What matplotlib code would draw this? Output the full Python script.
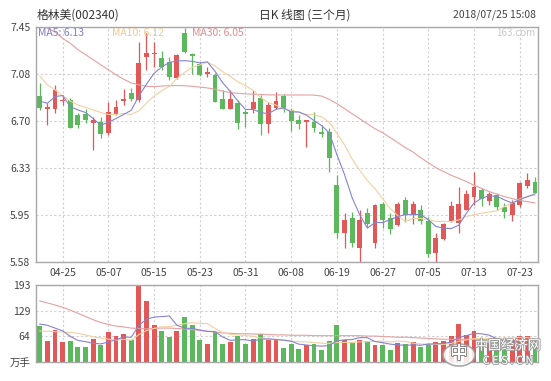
import matplotlib
matplotlib.use('Agg')
import matplotlib.pyplot as plt
import matplotlib.patheffects as pe
from matplotlib.patches import Circle

plt.rcParams['font.family'] = ['Noto Sans CJK SC', 'DejaVu Sans']

dates = ['04-20', '04-23', '04-24', '04-25', '04-26', '04-27', '05-02', '05-03', '05-04', '05-07',
         '05-08', '05-09', '05-10', '05-11', '05-14', '05-15', '05-16', '05-17', '05-18', '05-21',
         '05-22', '05-23', '05-24', '05-25', '05-28', '05-29', '05-30', '05-31', '06-01', '06-04',
         '06-05', '06-06', '06-07', '06-08', '06-11', '06-12', '06-13', '06-14', '06-15', '06-19',
         '06-20', '06-21', '06-22', '06-25', '06-26', '06-27', '06-28', '06-29', '07-02', '07-03',
         '07-04', '07-05', '07-06', '07-09', '07-10', '07-11', '07-12', '07-13', '07-16', '07-17',
         '07-18', '07-19', '07-20', '07-23', '07-24', '07-25']

opens = [6.901, 6.80, 6.795, 6.86, 6.869, 6.75, 6.755, 6.683, 6.697, 6.609,
         6.755, 6.861, 6.922, 6.869, 7.211, 7.235, 7.20, 7.174, 7.047, 7.40,
         7.23, 7.153, 7.073, 7.068, 6.88, 6.80, 6.843, 6.771, 6.798, 6.882,
         6.675, 6.803, 6.904, 6.79, 6.71, 6.695, 6.697, 6.612, 6.617, 6.193,
         5.808, 5.927, 5.689, 5.967, 5.729, 6.039, 5.933, 5.874, 6.073, 5.954,
         5.994, 5.909, 5.649, 5.761, 5.909, 5.888, 5.994, 6.10, 6.153, 6.068,
         6.113, 6.02, 5.954, 6.034, 6.185, 6.22]
highs = [7.007, 6.843, 6.989, 6.909, 6.882, 6.763, 6.795, 6.731, 6.731, 6.856,
         6.869, 6.957, 6.962, 7.333, 7.40, 7.333, 7.26, 7.214, 7.235, 7.44,
         7.24, 7.174, 7.134, 7.08, 6.949, 6.949, 6.869, 6.79, 6.949, 6.909,
         6.851, 6.935, 6.914, 6.803, 6.75, 6.71, 6.771, 6.67, 6.644, 6.272,
         5.97, 5.98, 5.994, 6.012, 6.045, 6.06, 5.967, 6.06, 6.10, 6.065,
         6.034, 5.941, 5.808, 5.888, 6.068, 6.174, 6.153, 6.299, 6.166, 6.14,
         6.127, 6.047, 6.074, 6.22, 6.286, 6.26]
lows = [6.79, 6.67, 6.768, 6.829, 6.644, 6.644, 6.683, 6.471, 6.564, 6.591,
        6.750, 6.829, 6.861, 6.851, 7.108, 7.13, 7.11, 7.028, 7.04, 7.24,
        7.073, 7.063, 7.055, 6.85, 6.798, 6.798, 6.638, 6.657, 6.763, 6.591,
        6.604, 6.798, 6.776, 6.622, 6.638, 6.498, 6.617, 6.577, 6.299, 5.768,
        5.689, 5.702, 5.575, 5.861, 5.689, 5.848, 5.80, 5.869, 5.901, 5.88,
        5.882, 5.623, 5.575, 5.755, 5.901, 5.808, 5.99, 6.034, 6.026, 6.034,
        5.994, 5.928, 5.909, 6.015, 6.166, 6.127]
closes = [6.803, 6.81, 6.949, 6.87, 6.649, 6.67, 6.710, 6.710, 6.599, 6.771,
          6.816, 6.874, 6.874, 7.166, 7.243, 7.246, 7.13, 7.055, 7.227, 7.254,
          7.22, 7.068, 7.09, 6.856, 6.80, 6.877, 6.683, 6.755, 6.856, 6.675,
          6.829, 6.861, 6.803, 6.702, 6.675, 6.70, 6.649, 6.601, 6.41, 5.808,
          5.914, 5.729, 5.914, 5.88, 6.034, 5.914, 5.843, 6.039, 5.954, 6.039,
          5.909, 5.644, 5.769, 5.883, 6.026, 6.042, 6.121, 6.174, 6.079, 6.119,
          6.015, 5.981, 6.052, 6.212, 6.233, 6.132]

ma5 = [6.86, 6.843, 6.896, 6.905, 6.816, 6.790, 6.770, 6.722, 6.668, 6.692,
       6.721, 6.754, 6.787, 6.900, 6.995, 7.081, 7.132, 7.168, 7.180, 7.182,
       7.177, 7.165, 7.172, 7.098, 7.007, 6.938, 6.861, 6.794, 6.794, 6.769,
       6.760, 6.795, 6.805, 6.774, 6.774, 6.748, 6.706, 6.665, 6.607, 6.434,
       6.276, 6.092, 5.955, 5.849, 5.894, 5.894, 5.917, 5.942, 5.957, 5.958,
       5.957, 5.917, 5.863, 5.849, 5.846, 5.873, 5.968, 6.049, 6.088, 6.107,
       6.102, 6.074, 6.049, 6.076, 6.099, 6.122]
ma10 = [7.06, 6.99, 6.95, 6.90, 6.86, 6.83, 6.81, 6.79, 6.77, 6.754,
        6.755, 6.762, 6.754, 6.784, 6.843, 6.901, 6.943, 6.977, 7.040, 7.089,
        7.129, 7.148, 7.170, 7.139, 7.095, 7.058, 7.013, 6.983, 6.946, 6.888,
        6.849, 6.828, 6.800, 6.784, 6.772, 6.754, 6.751, 6.735, 6.691, 6.604,
        6.512, 6.399, 6.310, 6.228, 6.164, 6.085, 6.005, 5.949, 5.903, 5.926,
        5.926, 5.917, 5.903, 5.903, 5.902, 5.915, 5.943, 5.956, 5.969, 5.977,
        5.987, 6.021, 6.049, 6.082, 6.103, 6.112]
ma30 = [7.47, 7.44, 7.41, 7.36, 7.32, 7.27, 7.23, 7.19, 7.15, 7.11,
        7.07, 7.035, 7.005, 6.99, 6.978, 6.975, 6.98, 6.983, 6.984, 6.983,
        6.978, 6.972, 6.965, 6.955, 6.94, 6.928, 6.922, 6.918, 6.915, 6.912,
        6.91, 6.909, 6.909, 6.909, 6.909, 6.909, 6.908, 6.90, 6.874, 6.84,
        6.80, 6.76, 6.72, 6.68, 6.64, 6.61, 6.57, 6.53, 6.49, 6.455,
        6.41, 6.37, 6.33, 6.30, 6.27, 6.246, 6.22, 6.19, 6.166, 6.14,
        6.12, 6.10, 6.085, 6.07, 6.06, 6.05]

volumes = [89, 52, 79, 49, 53, 37, 37, 58, 42, 76,
           66, 71, 54, 193, 152, 93, 77, 62, 77, 114,
           92, 56, 45, 75, 46, 49, 64, 45, 58, 70,
           54, 56, 35, 46, 33, 43, 46, 31, 53, 92,
           56, 49, 56, 52, 43, 42, 31, 47, 46, 49,
           37, 46, 49, 52, 66, 95, 68, 78, 47, 48,
           50, 45, 55, 64, 64, 56]
vol_ma5 = [95, 92, 85, 78, 64.4, 54, 51, 46.8, 45.4, 50,
           55.8, 62.6, 61.8, 92, 107.2, 112.6, 113.8, 115.4, 92.2, 84.6,
           84.4, 80.2, 76.8, 76.4, 62.8, 54.2, 55.8, 55.8, 52.4, 57.2,
           58.2, 56.6, 54.6, 52.2, 44.8, 42.6, 40.6, 39.8, 41.2, 53,
           55.6, 56.2, 61.2, 61, 51.2, 48.4, 44.8, 43, 41.8, 43,
           42, 45, 45.4, 46.6, 50, 61.6, 66, 71.8, 70.8, 67.2,
           58.2, 53.6, 49, 52.4, 55.6, 56.8]
vol_ma10 = [78, 77, 76, 75, 74, 72, 68, 63, 60, 57.2,
            54.9, 56.8, 54.3, 68.7, 78.6, 84.2, 88.2, 88.6, 92.1, 95.9,
            98.5, 97, 96.1, 84.3, 73.7, 69.3, 68, 66.3, 64.4, 60,
            56.2, 56.2, 55.2, 52.3, 51, 50.4, 48.6, 47.2, 46.7, 48.9,
            49.1, 48.4, 50.5, 51.1, 52.1, 52, 50.5, 52.1, 51.4, 47.1,
            45.2, 44.9, 44.2, 44.2, 46.5, 51.8, 55.5, 58.6, 58.7, 58.6,
            59.9, 59.8, 60.4, 61.6, 61.4, 57.5]
vol_ma30 = [153, 148, 143, 137, 130, 122, 114, 106, 99, 94,
            90, 88, 85, 84, 83, 84, 85, 85, 84, 83,
            81, 79, 77, 75, 73, 72, 71, 71, 70, 70,
            69, 68, 68, 67, 67, 67, 66, 66, 66, 66,
            66, 66, 66, 65, 65, 64, 63, 62, 62, 61,
            60, 59, 58, 57, 57, 57, 57, 57, 56, 56,
            56, 55, 55, 55, 55, 55]

price_ticks = [5.58, 5.954, 6.328, 6.702, 7.076, 7.45]
price_tick_labels = ['5.58', '5.95', '6.33', '6.70', '7.08', '7.45']
vol_ticks = [0, 64, 129, 193]
vol_tick_labels = ['万手', '64', '129', '193']
date_tick_idx = [3, 9, 15, 21, 27, 33, 39, 45, 51, 57, 63]

title = '格林美(002340)'
subtitle = '日K 线图 (三个月)'
timestamp = '2018/07/25 15:08'
legend_labels = ['MA5: 6.13', 'MA10: 6.12', 'MA30: 6.05']

RED = '#e25757'
GREEN = '#5cb85c'
C5 = '#8484d2'
C10 = '#f4cf9f'
C30 = '#e6a0a0'
GRID = '#d0d0d0'
SPINE = '#a8a8a8'
TXT = '#444444'
LW = 0.8

W, H = 551, 381
fig = plt.figure(figsize=(W / 100, H / 100), dpi=100)
ax = fig.add_axes([36 / W, 1 - 262 / H, 502 / W, 235 / H])
axv = fig.add_axes([36 / W, 1 - 362 / H, 502 / W, 77 / H])

n = len(closes)
xs = list(range(n))
bw = 0.64

for a in (ax, axv):
    for s in a.spines.values():
        s.set_color(SPINE)
        s.set_linewidth(1.0)
    a.set_xlim(-0.5, 65.4)
    a.set_xticks(date_tick_idx)
    a.grid(True, color=GRID, linestyle=(0, (2, 2)), linewidth=0.8)
    a.set_axisbelow(True)
    a.tick_params(length=0, colors=TXT, labelsize=7.5, pad=4)

# candles
for i in xs:
    o, c, h, l = opens[i], closes[i], highs[i], lows[i]
    col = RED if c >= o else GREEN
    ax.vlines(i, l, h, color=col, linewidth=0.9, zorder=2)
    body = max(abs(c - o), 0.012)
    ax.bar(i, body, bottom=min(o, c), width=bw, color=col, zorder=3, linewidth=0)

ax.plot(xs, ma30, color=C30, linewidth=LW, zorder=4)
ax.plot(xs, ma10, color=C10, linewidth=LW, zorder=4)
ax.plot(xs, ma5, color=C5, linewidth=LW, zorder=5)

ax.set_ylim(5.58, 7.45)
ax.set_yticks(price_ticks)
ax.set_yticklabels(price_tick_labels)
ax.set_xticklabels([dates[i] for i in date_tick_idx])

# volume
vcols = [RED if closes[i] >= opens[i] else GREEN for i in xs]
axv.bar(xs, volumes, width=bw, color=vcols, linewidth=0, zorder=2)
axv.plot(xs, vol_ma30, color=C30, linewidth=LW, zorder=3)
axv.plot(xs, vol_ma10, color=C10, linewidth=LW, zorder=3)
axv.plot(xs, vol_ma5, color=C5, linewidth=LW, zorder=4)
axv.set_ylim(0, 193)
axv.set_yticks(vol_ticks)
axv.set_yticklabels(vol_tick_labels)
axv.set_xticklabels([])

def px(x, y):
    return x / W, 1 - y / H

fig.text(*px(37, 15), title, fontsize=8.5, color='#333333', va='center', ha='left')
fig.text(*px(305, 15), subtitle, fontsize=8.5, color='#333333', va='center', ha='center')
fig.text(*px(536, 15), timestamp, fontsize=7.5, color='#444444', va='center', ha='right')

leg_x = [38, 112, 192]
for lx, lab, col in zip(leg_x, legend_labels, ['#7f7fc8', '#f0c890', '#e08c8c']):
    fig.text(*px(lx, 33), lab, fontsize=7.5, color=col, va='center', ha='left')
fig.text(*px(535, 33), '163.com', fontsize=7, color='#c8c8c8', va='center', ha='right')

# watermark
circ = Circle(px(459, 355), 16 / W, transform=fig.transFigure, facecolor='white',
              edgecolor='#9a9a9a', linewidth=1.2, zorder=10, alpha=0.85)
fig.patches.append(circ)
fig.text(*px(459, 354), '中', fontsize=13, color='white', ha='center', va='center',
         path_effects=[pe.withStroke(linewidth=1.5, foreground='#8a8a8a')], zorder=11)
fig.text(*px(508, 346), '中国经济网', fontsize=9.5, color='white', ha='center', va='center',
         path_effects=[pe.withStroke(linewidth=1.2, foreground='#9a9a9a')], zorder=11)
fig.text(*px(508, 361), 'C E S . C N', fontsize=8, color='white', ha='center', va='center',
         path_effects=[pe.withStroke(linewidth=1.2, foreground='#9a9a9a')], zorder=11)

fig.savefig('out.png', dpi=100, facecolor='white')
